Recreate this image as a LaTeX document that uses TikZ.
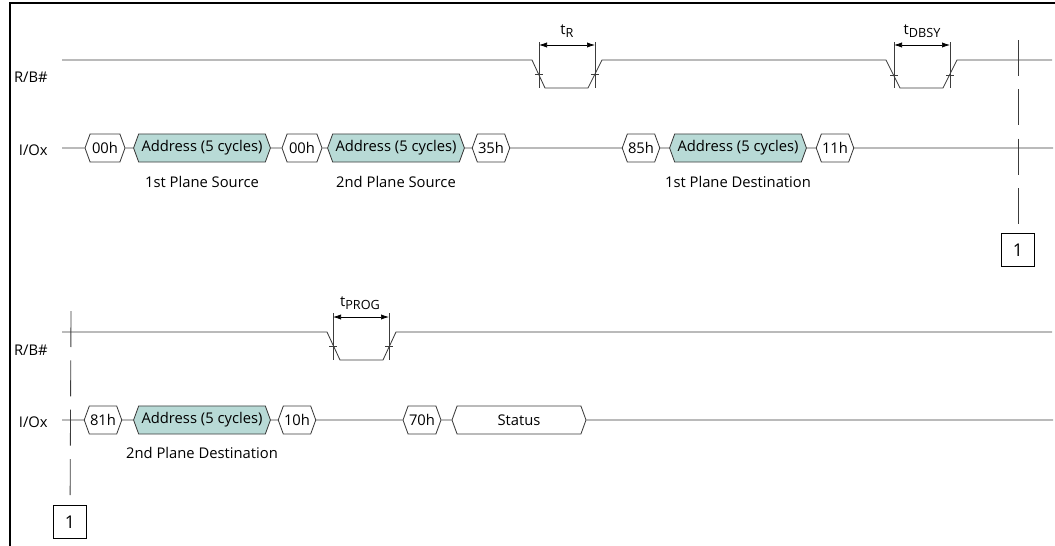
\documentclass[tikz,border=0pt]{standalone}
\usepackage{fontspec}
\setmainfont{Open Sans}
\usepackage{tikz}
\usetikzlibrary{arrows.meta,shapes.symbols}
\definecolor{addrcol}{HTML}{B8DAD6}
\definecolor{wirecol}{HTML}{3C3C3C}
\newcommand{\tsub}[1]{t\raisebox{-0.45ex}{\small #1}}
\tikzset{
  cyc/.style={draw=wirecol, line width=0.6pt, shape=signal, signal to=east and west,
    signal pointer angle=140, minimum height=7mm, minimum width=#1,
    inner xsep=0.5pt, inner ysep=0pt, fill=white, text=black},
  adr/.style={cyc=3.42cm, fill=addrcol}}

\begin{document}
\begin{tikzpicture}[x=0.025cm, y=-0.025cm, font=\fontsize{10.5}{12}\selectfont,
      wire/.style={draw=wirecol, line width=0.6pt},
      frame/.style={line width=1.5pt},
      signame/.style={anchor=east, inner sep=0pt},
      tick/.style={wirecol, line width=0.5pt},
      dim/.style={{Latex[length=2mm,width=1.3mm]}-{Latex[length=2mm,width=1.3mm]}, line width=0.5pt},
      refline/.style={wirecol, line width=0.6pt, dash pattern=on 25.6pt off 9.5pt},
      refbox/.style={draw, line width=0.9pt, minimum size=8.25mm, inner sep=0pt,
        font=\fontsize{12.5}{14}\selectfont}]
      \useasboundingbox (0,0) rectangle (1055,546);
      \draw[frame] (10,546) -- (10,3) -- (1055,3);

      % first half: read from both source planes, then start the copy
      \node[signame] (rb1) at (48,77) {R/B\#};
      \node[signame] (io1) at (48,150) {I/Ox};
      \draw[wire] (62,60) -- (532,60) -- (545,88) -- (588,88) -- (602,60)
        -- (886,60) -- (900,88) -- (943,88) -- (957,60) -- (1052,60);
      \draw[tick] (539,42) -- (539,88) (595,42) -- (595,88)
        (535,74) -- (543,74) (591,74) -- (599,74);
      \draw[dim] (539,45) -- (595,45);
      \node (tr) at (567,31) {\tsub{R}};
      \draw[tick] (894,42) -- (894,88) (950,42) -- (950,88)
        (890,75) -- (898,75) (946,75) -- (954,75);
      \draw[dim] (894,45) -- (950,45);
      \node (tdbsy) at (922,31) {\tsub{DBSY}};

      \coordinate (ioa) at (62,148);
      \node[cyc=1cm] (c00a) at (105,148) {00h};
      \node[adr] (ad1) at (202,148) {Address (5 cycles)};
      \node[cyc=1cm] (c00b) at (302,148) {00h};
      \node[adr] (ad2) at (396,148) {Address (5 cycles)};
      \node[cyc=0.93cm] (c35) at (491,148) {35h};
      \node[cyc=0.93cm] (c85) at (641,148) {85h};
      \node[adr] (ad3) at (738,148) {Address (5 cycles)};
      \node[cyc=0.93cm] (c11) at (835,148) {11h};
      \coordinate (iob) at (1053,148);
      \draw[wire] (ioa) -- (c00a) -- (ad1) -- (c00b) -- (ad2) -- (c35) -- (c85)
        -- (ad3) -- (c11) -- (iob);
      \node (src1) at (202,182) {1st Plane Source};
      \node (src2) at (396,182) {2nd Plane Source};
      \node (dst1) at (738,182) {1st Plane Destination};

      \coordinate (ref1top) at (1018,40);
      \node[refbox] (ref1) at (1018,250) {1};
      \draw[refline] (ref1top) -- (ref1);

      % second half: second destination, program and status read
      \node[signame] (rb2) at (48,350) {R/B\#};
      \node[signame] (io2) at (48,422) {I/Ox};
      \draw[wire] (62,332) -- (327,332) -- (340,360) -- (383,360) -- (396,332) -- (1052,332);
      \draw[tick] (333,313) -- (333,360) (389,313) -- (389,360)
        (329,346) -- (337,346) (385,346) -- (393,346);
      \draw[dim] (333,317) -- (389,317);
      \node (tprog) at (360,303) {\tsub{PROG}};

      \coordinate (ioc) at (62,420);
      \node[cyc=0.93cm] (c81) at (103,420) {81h};
      \node[adr] (ad4) at (202,420) {Address (5 cycles)};
      \node[cyc=0.93cm] (c10) at (297,420) {10h};
      \node[cyc=0.95cm] (c70) at (422,420) {70h};
      \node[cyc=3.35cm] (stat) at (519,420) {Status};
      \coordinate (iod) at (1053,420);
      \draw[wire] (ioc) -- (c81) -- (ad4) -- (c10) -- (c70) -- (stat) -- (iod);
      \node (dst2) at (202,453) {2nd Plane Destination};

      \coordinate (ref2top) at (71,311);
      \node[refbox] (ref2) at (70,522) {1};
      \draw[refline] (ref2top) -- (ref2);
    \end{tikzpicture}
\end{document}
